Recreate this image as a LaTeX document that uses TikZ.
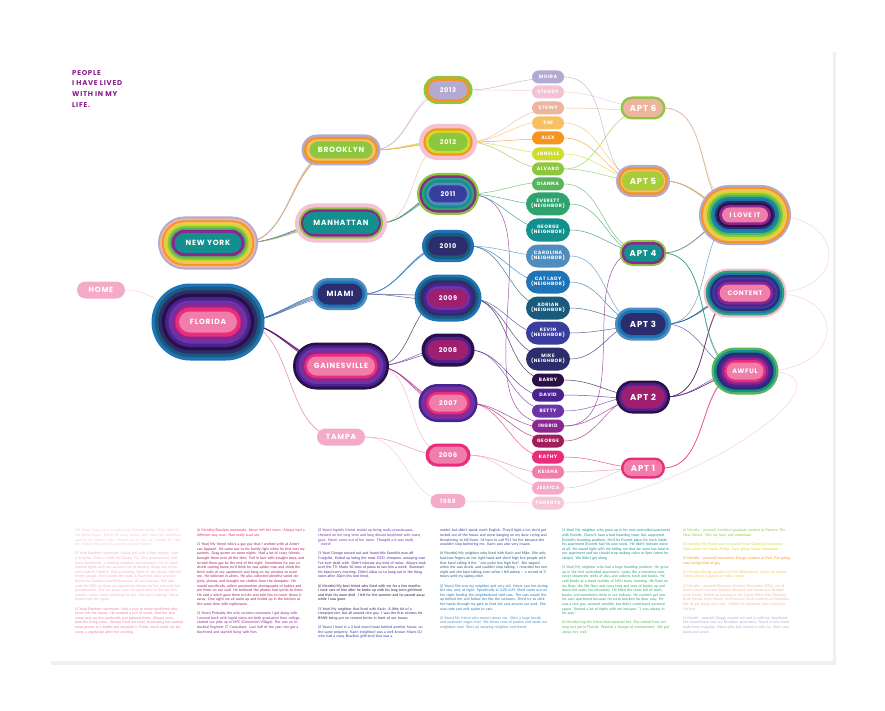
\documentclass[tikz,border=0pt]{standalone}
\usepackage{fontspec}
\setmainfont{Poppins}
\newfontfamily\capsfont[LetterSpace=10]{Poppins}
\newfontfamily\notefont{Lato}
\usetikzlibrary{shapes.misc,backgrounds}

% one colour per person, used for the rings, the pills and the threads
\definecolor{moi}{HTML}{B3A9D3}
\definecolor{stg}{HTML}{F4C2D2}
\definecolor{stn}{HTML}{EEB59E}
\definecolor{tim}{HTML}{F6C063}
\definecolor{alx}{HTML}{F7941D}
\definecolor{jan}{HTML}{CFDD2A}
\definecolor{alv}{HTML}{8DC63F}
\definecolor{dia}{HTML}{58B55B}
\definecolor{eve}{HTML}{2EA36E}
\definecolor{geon}{HTML}{13908E}
\definecolor{car}{HTML}{4F8DBE}
\definecolor{cat}{HTML}{1D74B7}
\definecolor{adr}{HTML}{1A5B7C}
\definecolor{kev}{HTML}{393E9E}
\definecolor{mik}{HTML}{2C2D6C}
\definecolor{bar}{HTML}{2A1046}
\definecolor{dav}{HTML}{4A2390}
\definecolor{bet}{HTML}{6C34A7}
\definecolor{ing}{HTML}{8C2690}
\definecolor{geo}{HTML}{A21D5B}
\definecolor{kat}{HTML}{EB2C7B}
\definecolor{kei}{HTML}{F07DAA}
\definecolor{jes}{HTML}{F5AAC7}
\definecolor{par}{HTML}{F7C6D7}
\definecolor{mag}{HTML}{9E1F6F}
\definecolor{lime}{HTML}{A9CD3A}
\definecolor{ttl}{HTML}{8B1D8E}

% stacked rings: name, centre, width, height, step, colours (outer to inner)
\newcommand\blob[6]{%
  \foreach \c [count=\i from 0] in {#6}
    \node[ring, fill=\c, minimum width={#3-2*\i*#5}, minimum height={#4-2*\i*#5}] (#1-r\i) at (#2) {};}
% one person's thread through a list of nodes
\newcommand\thread[3]{%
  \foreach \n [count=\k, remember=\n as \m] in {#3}{%
    \ifnum\k>1 \draw[thread=#1] ([yshift=#2]\m) to ([yshift=#2]\n);\fi}}
\newcommand\para[2]{{\color{#1}#2\par}\vspace{4.6pt}}

\begin{document}
\begin{tikzpicture}[x=1pt, y=-1pt,
    ring/.style={rounded rectangle, inner sep=0pt},
    tag/.style={rounded rectangle, inner sep=0pt, text=white, font=\capsfont\bfseries\fontsize{7.5}{8}\selectfont},
    yr/.style={tag, font=\capsfont\bfseries\fontsize{6.5}{7}\selectfont},
    apt/.style={tag, font=\capsfont\bfseries\fontsize{8.5}{9}\selectfont},
    feel/.style={tag, font=\capsfont\bfseries\fontsize{6.5}{7}\selectfont},
    who/.style={tag, minimum width=32, minimum height=13, font=\capsfont\bfseries\fontsize{4.8}{5.4}\selectfont},
    nbr/.style={who, minimum width=44, minimum height=23, align=center},
    thread/.style={draw=#1, line width=.5pt, opacity=.8, out=0, in=180},
    note/.style={anchor=north west, inner sep=0pt, text width=108pt, align=left, font=\notefont\fontsize{3.6}{4.6}\selectfont}]
  \useasboundingbox (0,0) rectangle (885,711);
  \begin{scope}[on background layer]
    \fill[white] (0,0) rectangle (885,711);
    \fill[black!6] (51,52) rectangle (836,665);
    \fill[white] (50,50) rectangle (833,661);
  \end{scope}

  \node[anchor=north west, inner sep=0pt, align=left, text=ttl, font=\capsfont\bfseries\fontsize{7}{10.7}\selectfont] (title) at (72,70) {PEOPLE\\I HAVE LIVED\\WITH IN MY\\LIFE.};

  % states and cities
  \node[tag, fill=jes, minimum width=48, minimum height=17] (home) at (101,290) {HOME};
  \blob{fl}{208,322}{113}{77}{3.4}{cat,adr,mik,bar,dav,bet,ing,kat}
  \node[tag, fill=kei, minimum width=58, minimum height=21] (fl) at (208,322) {FLORIDA};
  \blob{ny}{208,243}{100}{53}{1.9}{moi,stn,alx,tim,jan,alv,dia,ing}
  \node[tag, fill=geon, minimum width=67, minimum height=20] (ny) at (208,243) {NEW YORK};
  \blob{bro}{341,150}{79}{31}{2.4}{moi,alx,tim}
  \node[tag, fill=alv, minimum width=63, minimum height=17] (bro) at (341,150) {BROOKLYN};
  \blob{man}{341,223}{92}{39}{2}{stg,stg,alv,ing}
  \node[tag, fill=geon, minimum width=76, minimum height=22] (man) at (341,223) {MANHATTAN};
  \blob{mia}{340,294}{55}{32}{2.5}{car,cat}
  \node[tag, fill=mik, minimum width=45, minimum height=21] (mia) at (340,294) {MIAMI};
  \blob{gv}{341,366}{96}{47}{2.8}{bar,dav,bet,ing,kat}
  \node[tag, fill=kei, minimum width=68, minimum height=19] (gv) at (341,366) {GAINESVILLE};
  \node[tag, fill=jes, minimum width=48, minimum height=17] (tam) at (341,437) {TAMPA};

  % years
  \blob{y13}{448,90}{49}{28}{2.5}{alv,alx}
  \node[yr, fill=moi, minimum width=39, minimum height=18] (y13) at (448,90) {2013};
  \blob{y12}{448,142}{58}{36}{2.2}{stg,stg,alx,jan}
  \node[yr, fill=alv, minimum width=39, minimum height=18] (y12) at (448,142) {2012};
  \blob{y11}{448,194}{62}{42}{2.4}{alv,ing,eve,geon,car}
  \node[yr, fill=kev, minimum width=38, minimum height=17] (y11) at (448,194) {2011};
  \blob{y10}{448,246}{52}{32}{3}{cat,adr}
  \node[yr, fill=mik, minimum width=40, minimum height=19] (y10) at (448,246) {2010};
  \blob{y09}{448,298}{67}{47}{2.9}{cat,adr,mik,dav,bet}
  \node[yr, fill=mag, minimum width=40, minimum height=18] (y09) at (448,298) {2009};
  \blob{y08}{448,350}{53}{33}{3.3}{bar,dav}
  \node[yr, fill=mag, minimum width=41, minimum height=20] (y08) at (448,350) {2008};
  \blob{y07}{448,403}{59}{38}{2.6}{dav,bet,ing,kat}
  \node[yr, fill=kei, minimum width=38, minimum height=17] (y07) at (448,403) {2007};
  \blob{y06}{448,455}{45}{23}{2.5}{kat}
  \node[yr, fill=kei, minimum width=38, minimum height=17] (y06) at (448,455) {2006};
  \node[yr, fill=jes, minimum width=35, minimum height=14, font=\capsfont\bfseries\fontsize{6}{7}\selectfont] (y88) at (448,501) {1988};

  % people
  \node[who, fill=moi] (moi) at (548,77) {MOIRA};
  \node[who, fill=stg] (stg) at (548,92) {STEGGY};
  \node[who, fill=stn] (stn) at (548,108) {STEINY};
  \node[who, fill=tim] (tim) at (548,123) {TIM};
  \node[who, fill=alx] (alx) at (548,138) {ALEX};
  \node[who, fill=jan] (jan) at (548,154) {JANELLE};
  \node[who, fill=alv] (alv) at (548,169) {ALVARO};
  \node[who, fill=dia] (dia) at (548,184) {DIANNA};
  \node[nbr, fill=eve] (eve) at (548,204) {EVERETT\\(NEIGHBOR)};
  \node[nbr, fill=geon] (geon) at (548,230) {GEORGE\\(NEIGHBOR)};
  \node[nbr, fill=car] (car) at (548,256) {CAROLINA\\(NEIGHBOR)};
  \node[nbr, fill=cat] (cat) at (548,282) {CAT LADY\\(NEIGHBOR)};
  \node[nbr, fill=adr] (adr) at (548,308) {ADRIAN\\(NEIGHBOR)};
  \node[nbr, fill=kev] (kev) at (548,333) {KEVIN\\(NEIGHBOR)};
  \node[nbr, fill=mik] (mik) at (548,359) {MIKE\\(NEIGHBOR)};
  \node[who, fill=bar] (bar) at (548,380) {BARRY};
  \node[who, fill=dav] (dav) at (548,395) {DAVID};
  \node[who, fill=bet] (bet) at (548,411) {BETTY};
  \node[who, fill=ing] (ing) at (548,426) {INGRID};
  \node[who, fill=geo] (geo) at (548,441) {GEORGE};
  \node[who, fill=kat] (kat) at (548,457) {KATHY};
  \node[who, fill=kei] (kei) at (548,472) {KEISHA};
  \node[who, fill=jes] (jes) at (548,488) {JESSICA};
  \node[who, fill=par] (par) at (548,503) {PARENTS};

  % apartments
  \blob{a6}{643,108}{45}{23}{2.4}{alv}
  \node[apt, fill=stn, minimum width=40, minimum height=18] (a6) at (643,108) {APT 6};
  \blob{a5}{643,181}{54}{32}{2.3}{moi,alx,tim}
  \node[apt, fill=lime, minimum width=42, minimum height=19] (a5) at (643,181) {APT 5};
  \blob{a4}{643,253}{47}{26}{2}{alv,ing}
  \node[apt, fill=geon, minimum width=38, minimum height=17] (a4) at (643,253) {APT 4};
  \blob{a3}{643,324}{56}{33}{2.5}{car,cat}
  \node[apt, fill=mik, minimum width=45, minimum height=22] (a3) at (643,324) {APT 3};
  \blob{a2}{643,397}{54}{33}{2.5}{bar,dav}
  \node[apt, fill=mag, minimum width=44, minimum height=23] (a2) at (643,397) {APT 2};
  \blob{a1}{643,468}{44}{21}{2.2}{kat}
  \node[apt, fill=kei, minimum width=39, minimum height=16] (a1) at (643,468) {APT 1};

  % how it felt
  \blob{ilo}{745,215}{92}{60}{2}{moi,alx,tim,jan,alv,dia,geon,cat,mik,bar,ing}
  \node[feel, fill=kei, minimum width=46, minimum height=15] (ilo) at (745,215) {I LOVE IT};
  \blob{con}{745,293}{83}{49}{2.2}{stg,eve,cat,mik,kev,dav,ing}
  \node[feel, fill=kei, minimum width=51, minimum height=17] (con) at (745,293) {CONTENT};
  \blob{awf}{745,371}{67}{47}{2.5}{dia,geon,mik,dav,ing,kat}
  \node[feel, fill=kei, minimum width=37, minimum height=17] (awf) at (745,371) {AWFUL};

  % threads
  \begin{scope}[on background layer]
    \thread{par}{0}{home,fl,tam,y88,par}
    \draw[thread=par] (par) to[in=0, looseness=1.2] (awf) to[in=0, looseness=2.6] (con) to[in=0, looseness=2.6] (ilo);
    \thread{jes}{1}{fl,gv,y06,jes,a1,awf}
    \thread{kei}{-1}{fl,tam,y06,kei,a1,awf}
    \thread{kat}{0}{fl,gv,y07,kat,a1,awf}
    \thread{geo}{2}{fl,gv,y07,geo,a2,con}
    \thread{ing}{-2}{fl,gv,y07,ing,a2,awf}
    \thread{ing}{3}{ny,man,y11,ing,a4,ilo}
    \thread{bet}{1.5}{fl,gv,y08,bet,a2,awf}
    \thread{dav}{-1.5}{fl,gv,y08,dav,a2,awf}
    \thread{bar}{0.5}{fl,gv,y09,bar,a2,con}
    \thread{mik}{2.5}{fl,mia,y09,mik,a3,con}
    \thread{kev}{-2.5}{fl,mia,y09,kev,a3,awf}
    \thread{adr}{1}{fl,mia,y10,adr,a3,con}
    \thread{cat}{-1}{fl,mia,y10,cat,a3,con}
    \thread{car}{0}{fl,mia,y10,car,a3,ilo}
    \thread{geon}{1}{ny,man,y11,geon,a4,awf}
    \thread{eve}{-1}{ny,man,y11,eve,a4,awf}
    \thread{dia}{2}{ny,man,y11,dia,a4,ilo}
    \thread{alv}{0}{ny,bro,y12,alv,a5,ilo}
    \thread{alv}{-3}{alv,a6,ilo}
    \thread{jan}{1}{ny,bro,y12,jan,a5,ilo}
    \thread{alx}{-1}{ny,bro,y12,alx,a5,ilo}
    \thread{tim}{2}{ny,bro,y12,tim,a5,ilo}
    \thread{stn}{-2}{ny,man,y12,stn,a6,ilo}
    \thread{stg}{1.5}{ny,bro,y13,stg,a6,ilo}
    \thread{moi}{-1.5}{ny,bro,y13,moi,a5,ilo}
  \end{scope}

  % stories
  \node[note] (n1) at (75,529) {%
    \para{par}{(18 Years) Grew up in a traditional Chinese family. Only child 'til not father figure. Plenty of crazy stories, but I was very rebellious against my parents rules. Moved out as soon as I turned 18. Now my relationship with my parents is much better.}
    \para{jes}{(1 Year) Random roommate. Italian girl with a high temper, rude \& bi-polar. From a small city (Ocala, FL). Very promiscuous, had many boyfriends, a drinking problem, and smoked a lot of weed. Started fights with me, accused me of stealing things out of her room (which I didn't). Had screaming fights on the phone with different people, she'd punch the walls \& trash her door, and she threw my furniture and kitchenware off our balcony. She also used the \$50 to cheat my apartment photos for her and with her grandparents. She ran away from our apartment in the last few months, police came searching for her. She went missing. Never heard from her again.}
    \para{kei}{(1 Year) Random roommate. Had a stay at home boyfriend who never left the house. He smoked a ton of weed. Had her kids come over on the weekends and babysat them. Always occupied the living room. Always fried her food, fermenting her cooked meat grease in a bottle and recycled it. Pretty much made me become a vegetarian after her cooking.}};
  \node[note] (n2) at (197,529) {%
    \para{kat}{(6 Months) Random roommate. Never left her room. Always had a different boy over. Had really loud sex.}
    \para{geo}{(1 Year) My friend who's a gay guy that I worked with at American Apparel. He came out to his family right when he first met my parents. Drag queen on some nights. Had a lot of crazy friends, brought them over all the time. Fell in love with straight boys, and turned them gay by the end of the night. Sometimes he was so drunk coming home he'd think he was spider man and climb the brick walls of our apartment and hang on my window to scare me. He believed in aliens. He also collected plentiful weird objects, photos, and brought me clothes from the dumpster. He would specifically collect postmortem photographs of babies and pin them on our wall. He believed the photos had spirits to them. He said a witch gave them to him and told him to never throw it away. One night we all woke up and ended up in the kitchen at the same time with nightmares.}
    \para{ing}{(3 Years) Probably the only random roommate I got along with. I moved back with Ingrid when we both graduated from college, started our jobs up in NYC (Greenwich Village). She was an Industrial Engineer IT Consultant. Last half of the year, she got a boyfriend and started living with him.}};
  \node[note] (n3) at (318,529) {%
    \para{bet}{(2 Years) Ingrid's friend, ended up being really promiscuous, cheated on her long term and long distant boyfriend with many guys. Never came out of her room. Thought a it was really ``weird''.}
    \para{dav}{(1 Year) George moved out and found this Swedish man off Craigslist. Ended up being the most OCD, cheapest, annoying man I've ever dealt with. Didn't tolerate any kind of noise. Always took over the TV. Made 10 tons of pasta to last him a week. Slammed his head every morning. Didn't allow us to hang out in the living room after 10pm (his bed time).}
    \para{bar}{(6 Months) My best friend who lived with me for a few months. I took care of him after he broke up with his long term girlfriend and then his mom died. I left for the summer and he passed away while I was gone.}
    \para{mik}{(1 Year) My neighbor that lived with Karin. A little bit of a creep/pervert, but all around nice guy. I was the first witness his BMW being put on cement bricks in front of our house.}
    \para{kev}{(2 Years) I lived in a 3 bed room house behind another house, on the same property. Karin (neighbor) was a well known Miami DJ who had a crazy Brazilian girlfriend that was a}};
  \node[note] (n4) at (440,529) {%
    \para{kev}{model, but didn't speak much English. They'd fight a lot, she'd get locked out of the house and come banging on my door crying and threatening to kill Karin. I'd have to call 911 for her because she wouldn't stop bothering me. Karin was also very insane.}
    \para{adr}{(6 Months) My neighbor who lived with Karin and Mike. She only had two fingers on her right hand and she'd high five people with that hand calling it the ``one point five high five''. She tapped when she was drunk, and couldn't stop talking. I recorded her one night and she kept talking even when I fell asleep -- a record of 3 hours until my laptop died.}
    \para{cat}{(2 Years) She was my neighbor and very old. Never saw her during the day, only at night. Specifically at 2:20 A.M. She'd come out on her night feeding the neighborhood wild cats. The cats would line up behind her and follow her like the cartoons. She'd try to stick her hands through my gate to feed the cats around our yard. She was rude and only spoke to cats.}
    \para{car}{(2 Years) My friend who moved above me. She's a huge foodie and awesome vegan chef. We threw tons of parties and made our neighbors mad. She's an amazing neighbor and friend.}};
  \node[note] (n5) at (562,529) {%
    \para{geon}{(1 Year) My neighbor who grew up in his rent controlled apartment with Everett. Doesn't have a bad hoarding issue, but supported Everett's hoarding problem. He'd let Everett place his trash inside his apartment (Everett had his own keys). He didn't tolerate noise at all. He would fight with me telling me that we were too loud in our apartment and we should stop making noise at 9pm (when he sleeps). We didn't get along.}
    \para{eve}{(1 Year) My neighbor who had a huge hoarding problem. He grew up in the rent controlled apartment. Looks like a homeless man, never showered, reeks of piss, and collects trash and books. He sold books at a stand outside of NYU every morning. He lived on my floor, the 5th floor and carry tons and tons of books up and down the stairs (no elevators). He filled the stairs full of trash, books, and sometimes sleep in our hallway. He couldn't get into his own apartment because his trash blocked his door way. He was a nice guy, seemed sensible, but didn't understand personal space. Started a lot of fights with me because ``I was always in his way''.}
    \para{dia}{(6 Months) Ingrid's friend that replaced her. She retired from her long fast job in Florida. Wanted a change of environment. We got along very well.}};
  \node[note] (n6) at (683,529) {%
    \para{alv}{(6 Months - present) Architect graduate student at Parsons The New School. He's my lover and roommate.}
    \para{jan}{(6 Months) My friend and co-worker from Opening Ceremony. Now works for Marky Parker. Easy going, lovely roommate.}
    \para{alx}{(6 Months - present) Interaction Design student at SVA. Fun going, easy loving kind of guy.}
    \para{tim}{(6 Months) Design student at SVA (Illustration). Loves his ramen! Drinks about 2 gallons of milk a week.}
    \para{stn}{(2 Months - present) Between October-December 2012, we all had to move out and separate because our house was flooded from Sandy. Ended up moving to the Upper West Side (Harlem). Both friends from Miami. Architecture Grad students at Columbia. We all got along very well. I killed the commute from school to Harlem.}
    \para{moi}{(1 Month - present) Steggy moved out and in with her boyfriend. We moved back into our Brooklyn apartment. Found a new roommate from craigslist. Moira who just moved in with us. She's very quiet and sweet.}};
\end{tikzpicture}
\end{document}
